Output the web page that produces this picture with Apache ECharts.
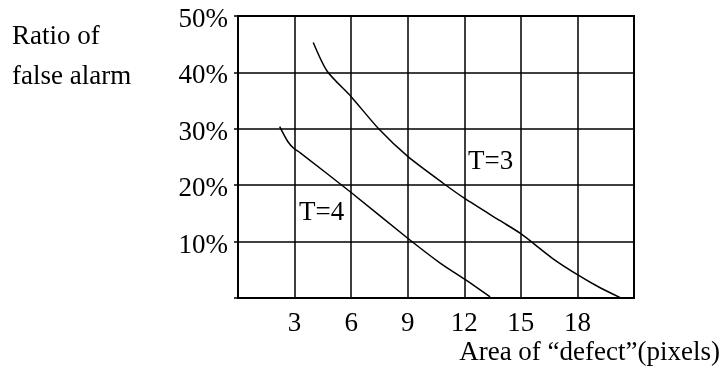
<!DOCTYPE html>
<html>
<head>
<meta charset="utf-8">
<script src="https://cdn.jsdelivr.net/npm/echarts@6/dist/echarts.min.js"></script>
<style>
  html, body { margin: 0; padding: 0; background: #fff; }
  #main { width: 728px; height: 370px; }
</style>
</head>
<body>
<div id="main"></div>
<script>
// area of defect (pixels) vs ratio of false alarm (%)
var t3X = [3.99, 4.73, 6.0, 7.46, 9.0, 10.9, 12.0, 13.9, 15.0, 16.69, 18.0, 19.13, 20.27];
var t3Y = [45.3, 40.2, 35.7, 30.0, 25.1, 20.3, 17.7, 13.7, 11.4, 7.0, 4.14, 1.95, 0.06];
var t4X = [2.21, 2.65, 2.97, 3.32, 6.0, 9.0, 10.72, 12.0, 13.37];
var t4Y = [30.4, 27.7, 26.5, 25.7, 18.7, 10.6, 6.2, 3.37, 0.18];
var xTicks = [3, 6, 9, 12, 15, 18];
var yTicks = [10, 20, 30, 40, 50];

var font = '"Liberation Serif", "Times New Roman", serif';

function pairs(xs, ys) {
  var out = [];
  for (var i = 0; i < xs.length; i++) out.push([xs[i], ys[i]]);
  return out;
}

function curveLabel(text, x, y) {
  return {
    symbol: 'rect',
    symbolSize: 1,
    itemStyle: { color: 'rgba(0,0,0,0)' },
    label: { show: true, position: 'inside', formatter: text, color: '#000', fontFamily: font, fontSize: 27 },
    data: [{ coord: [x, y] }]
  };
}

var chart = echarts.init(document.getElementById('main'), null, { renderer: 'canvas' });

var option = {
  backgroundColor: '#ffffff',
  animation: false,
  grid: { left: 238, right: 94, top: 16, bottom: 72, show: true, borderColor: '#000', borderWidth: 2 },
  xAxis: {
    type: 'value',
    min: 0,
    max: 21,
    interval: 3,
    axisLine: { show: true, lineStyle: { color: '#000', width: 2 } },
    axisTick: { show: false },
    splitLine: { show: true, lineStyle: { color: '#000', width: 1.5 } },
    axisLabel: {
      margin: 12,
      color: '#000',
      fontFamily: font,
      fontSize: 27,
      formatter: function (v) { return xTicks.indexOf(v) >= 0 ? String(v) : ''; }
    }
  },
  yAxis: {
    type: 'value',
    min: 0,
    max: 50,
    interval: 10,
    axisLine: { show: true, lineStyle: { color: '#000', width: 2 } },
    axisTick: { show: true, length: 4, lineStyle: { color: '#000', width: 1.5 } },
    splitLine: { show: true, lineStyle: { color: '#000', width: 1.5 } },
    axisLabel: {
      margin: 10,
      color: '#000',
      fontFamily: font,
      fontSize: 27,
      verticalAlign: 'top',
      lineHeight: 8,
      formatter: function (v) { return yTicks.indexOf(v) >= 0 ? v + '%' : ''; }
    }
  },
  series: [
    {
      name: 'T=3',
      type: 'line',
      smooth: 0.25,
      symbol: 'none',
      lineStyle: { color: '#000', width: 1.5 },
      data: pairs(t3X, t3Y),
      markPoint: curveLabel('T=3', 13.4, 24.1)
    },
    {
      name: 'T=4',
      type: 'line',
      smooth: 0.25,
      symbol: 'none',
      lineStyle: { color: '#000', width: 1.5 },
      data: pairs(t4X, t4Y),
      markPoint: curveLabel('T=4', 4.44, 15.1)
    }
  ],
  graphic: [
    { type: 'text', left: 12, top: 23, style: { text: 'Ratio of', fill: '#000', font: '27px ' + font } },
    { type: 'text', left: 12, top: 63, style: { text: 'false alarm', fill: '#000', font: '27px ' + font } },
    { type: 'text', right: 8, top: 339, style: { text: 'Area of \u201cdefect\u201d(pixels)', fill: '#000', font: '27px ' + font } }
  ]
};

chart.setOption(option);
</script>
</body>
</html>
